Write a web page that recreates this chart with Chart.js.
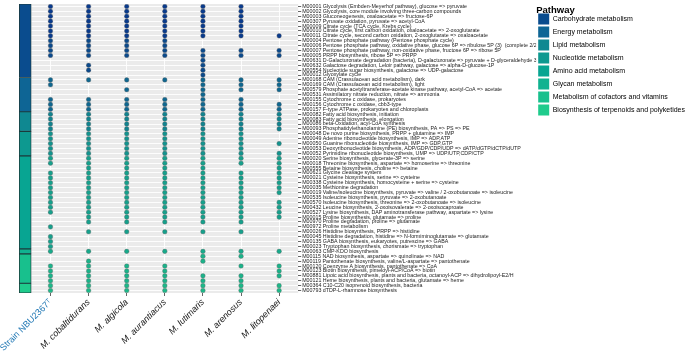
<!DOCTYPE html>
<html><head><meta charset="utf-8">
<script src="https://cdn.jsdelivr.net/npm/chart.js@4.4.1/dist/chart.umd.min.js"></script>
<style>html,body{margin:0;padding:0;background:#fff;}#wrap{position:relative;width:685px;height:351px;}canvas{display:block;}</style>
</head><body><div id="wrap"><canvas id="c" width="685" height="351"></canvas></div>
<script>
const species = ["Strain NBU2367\u1D40","M. cobaltidurans","M. algicola","M. aurantiacus","M. lutimaris","M. arenosus","M. litopenaei"];
const modules = [
"M00001 Glycolysis (Embden-Meyerhof pathway), glucose => pyruvate",
"M00002 Glycolysis, core module involving three-carbon compounds",
"M00003 Gluconeogenesis, oxaloacetate => fructose-6P",
"M00307 Pyruvate oxidation, pyruvate => acetyl-CoA",
"M00009 Citrate cycle (TCA cycle, Krebs cycle)",
"M00010 Citrate cycle, first carbon oxidation, oxaloacetate => 2-oxoglutarate",
"M00011 Citrate cycle, second carbon oxidation, 2-oxoglutarate => oxaloacetate",
"M00004 Pentose phosphate pathway (Pentose phosphate cycle)",
"M00006 Pentose phosphate pathway, oxidative phase, glucose 6P => ribulose 5P (3)  (complete 2/2)",
"M00007 Pentose phosphate pathway, non-oxidative phase, fructose 6P => ribose 5P",
"M00005 PRPP biosynthesis, ribose 5P => PRPP",
"M00631 D-Galacturonate degradation (bacteria), D-galacturonate => pyruvate + D-glyceraldehyde 3P",
"M00632 Galactose degradation, Leloir pathway, galactose => alpha-D-glucose-1P",
"M00554 Nucleotide sugar biosynthesis, galactose => UDP-galactose",
"M00012 Glyoxylate cycle",
"M00168 CAM (Crassulacean acid metabolism), dark",
"M00169 CAM (Crassulacean acid metabolism), light",
"M00579 Phosphate acetyltransferase-acetate kinase pathway, acetyl-CoA => acetate",
"M00531 Assimilatory nitrate reduction, nitrate => ammonia",
"M00155 Cytochrome c oxidase, prokaryotes",
"M00156 Cytochrome c oxidase, cbb3-type",
"M00157 F-type ATPase, prokaryotes and chloroplasts",
"M00082 Fatty acid biosynthesis, initiation",
"M00083 Fatty acid biosynthesis, elongation",
"M00086 beta-Oxidation, acyl-CoA synthesis",
"M00093 Phosphatidylethanolamine (PE) biosynthesis, PA => PS => PE",
"M00048 De novo purine biosynthesis, PRPP + glutamine => IMP",
"M00049 Adenine ribonucleotide biosynthesis, IMP => ADP,ATP",
"M00050 Guanine ribonucleotide biosynthesis, IMP => GDP,GTP",
"M00053 Deoxyribonucleotide biosynthesis, ADP/GDP/CDP/UDP => dATP/dGTP/dCTP/dUTP",
"M00052 Pyrimidine ribonucleotide biosynthesis, UMP => UDP/UTP,CDP/CTP",
"M00020 Serine biosynthesis, glycerate-3P => serine",
"M00018 Threonine biosynthesis, aspartate => homoserine => threonine",
"M00555 Betaine biosynthesis, choline => betaine",
"M00621 Glycine cleavage system",
"M00021 Cysteine biosynthesis, serine => cysteine",
"M00338 Cysteine biosynthesis, homocysteine + serine => cysteine",
"M00035 Methionine degradation",
"M00019 Valine/isoleucine biosynthesis, pyruvate => valine / 2-oxobutanoate => isoleucine",
"M00535 Isoleucine biosynthesis, pyruvate => 2-oxobutanoate",
"M00570 Isoleucine biosynthesis, threonine => 2-oxobutanoate => isoleucine",
"M00432 Leucine biosynthesis, 2-oxoisovalerate => 2-oxoisocaproate",
"M00527 Lysine biosynthesis, DAP aminotransferase pathway, aspartate => lysine",
"M00015 Proline biosynthesis, glutamate => proline",
"M00970 Proline degradation, proline => glutamate",
"M00972 Proline metabolism",
"M00026 Histidine biosynthesis, PRPP => histidine",
"M00045 Histidine degradation, histidine => N-formiminoglutamate => glutamate",
"M00135 GABA biosynthesis, eukaryotes, putrescine => GABA",
"M00023 Tryptophan biosynthesis, chorismate => tryptophan",
"M00063 CMP-KDO biosynthesis",
"M00115 NAD biosynthesis, aspartate => quinolinate => NAD",
"M00119 Pantothenate biosynthesis, valine/L-aspartate => pantothenate",
"M00120 Coenzyme A biosynthesis, pantothenate => CoA",
"M00123 Biotin biosynthesis, pimeloyl-ACP/CoA => biotin",
"M00881 Lipoic acid biosynthesis, plants and bacteria, octanoyl-ACP => dihydrolipoyl-E2/H",
"M00121 Heme biosynthesis, plants and bacteria, glutamate => heme",
"M00364 C10-C20 isoprenoid biosynthesis, bacteria",
"M00793 dTDP-L-rhamnose biosynthesis"
];
const pathways = ["Carbohydrate metabolism","Energy metabolism","Lipid metabolism","Nucleotide metabolism","Amino acid metabolism","Glycan metabolism","Metabolism of cofactors and vitamins","Biosynthesis of terpenoids and polyketides"];
const pathwayColors = ["#0a4c8e","#0e6595","#0f8891","#0d9990","#08a592","#10b290","#18c08d","#1fcb8c"];
const rowsPerPathway = [15,7,4,5,19,1,6,2];
const strainRows = [1,2,3,4,5,6,7,8,9,10,11,16,17,20,21,22,23,24,25,26,27,28,29,30,31,32,33,35,36,37,38,39,40,41,42,43,46,48,49,50,51,54,55,56,57,58,59];
const cobaltiduransRows = [1,2,3,4,5,6,7,8,9,10,11,13,14,16,20,21,22,23,24,25,26,27,28,29,30,31,32,33,34,35,36,37,38,39,40,41,42,43,44,45,47,51,53,54,55,56,57,58,59];
const algicolaRows = [1,2,3,4,5,6,7,8,9,10,11,16,18,20,21,22,23,24,25,26,27,28,29,30,31,32,33,34,35,36,37,38,39,40,41,42,43,44,45,47,51,54,55,56,57,58,59];
const aurantiacusRows = [1,2,3,4,5,6,7,8,9,10,11,16,20,21,22,23,24,25,26,27,28,29,30,31,32,33,34,35,36,37,38,39,40,41,42,43,44,45,47,51,54,55,56,57,58,59];
const lutimarisRows = [1,2,3,4,5,6,7,10,11,12,13,14,15,16,17,18,19,20,21,22,23,24,25,26,27,28,29,30,31,32,33,34,35,36,37,38,39,40,41,42,43,44,45,47,51,52,53,56,57,58,59];
const arenosusRows = [1,2,3,4,5,6,7,10,11,16,17,18,20,21,22,23,24,25,26,27,28,29,30,31,32,33,35,36,37,38,39,40,41,42,43,44,45,47,51,52,54,56,57,58,59];
const litopenaeiRows = [7,10,11,16,17,18,21,22,23,24,25,26,29,31,32,33,34,35,36,37,38,39,41,42,43,44,51,54,55,56,58,59];
const speciesRows = [strainRows,cobaltiduransRows,algicolaRows,aurantiacusRows,lutimarisRows,arenosusRows,litopenaeiRows];

// style helpers
const FONT = "'Liberation Sans', Arial, Helvetica, sans-serif";
const rowPathway = [];
rowsPerPathway.forEach((n,k)=>{for(let i=0;i<n;i++) rowPathway.push(k);});
const dotPalette = ["#0b4a8c","#0f6790","#11838f","#13938e","#16a08c","#18aa8b","#1bb38a","#1db889"];
function dotColor(row){
  const k = rowPathway[row-1];
  if (k===0 && row<=7) return "#093b8d";
  return dotPalette[k];
}
const XMIN = 0.174, SIDEX = 0.337;
const datasets = [];
let start = 1;
rowsPerPathway.forEach((n,k)=>{
  datasets.push({type:'bar', data:[{x:SIDEX, y:[start-0.5, start+n-0.5]}], backgroundColor:pathwayColors[k],
    borderColor:'#1c3a3c', borderWidth:0.9, borderSkipped:false, barThickness:12, grouped:false, order:2});
  start += n;
});
speciesRows.forEach((rows,j)=>{
  datasets.push({type:'scatter', data:rows.map(r=>({x:j+1,y:r})), pointRadius:2.3, pointHoverRadius:2.3,
    pointBackgroundColor:ctx=>dotColor(ctx.raw? ctx.raw.y : 1), pointBorderColor:'rgba(95,95,95,0.6)', pointBorderWidth:0.6, order:1});
});
const panelBg = {id:'panelBg', beforeDraw(chart){
  const {ctx, chartArea:a, scales:{x}} = chart; const l = x.getPixelForValue(0.5);
  ctx.save(); ctx.fillStyle='#ebebeb'; ctx.fillRect(l, a.top, a.right-l, a.bottom-a.top); ctx.restore();
}};
new Chart(document.getElementById('c'), {
  type:'scatter',
  data:{datasets},
  plugins:[panelBg],
  options:{
    responsive:false, animation:false, events:[],
    layout:{padding:{left:19, top:4, right:-10, bottom:0}},
    scales:{
      x:{type:'linear', min:XMIN, max:7.5, offset:false,
        afterBuildTicks:s=>{s.ticks = species.map((_,i)=>({value:i+1}));},
        afterFit:s=>{s.height = 58; s.paddingLeft = 0; s.paddingRight = 0;},
        ticks:{autoSkip:false, maxRotation:45, minRotation:45, padding:1,
          callback:(v,i)=>species[i],
          color:ctx=>ctx.index===0?'#1f77b4':'#1a1a1a',
          font:ctx=>({family:FONT, size:9, style: ctx.index===0?'normal':'italic'})},
        grid:{offset:false, color:'#ffffff', lineWidth:0.9, tickColor:'#555', tickLength:3},
        border:{display:false}},
      y:{type:'linear', position:'right', reverse:true, min:0.5, max:59.5, offset:false,
        afterBuildTicks:s=>{s.ticks = modules.map((_,i)=>({value:i+1}));},
        afterFit:s=>{s.width = 238; s.paddingTop = 0; s.paddingBottom = 0;},
        ticks:{autoSkip:false, padding:1, color:'#222', font:{family:FONT, size:5.3},
          callback:(v,i)=>modules[i]},
        grid:{offset:false, color:'#ffffff', lineWidth:0.9, tickColor:'#555', tickLength:3},
        border:{display:false}}
    },
    plugins:{
      tooltip:{enabled:false},
      legend:{position:'right', align:'start', onClick:()=>{},
        title:{display:true, text:'Pathway', position:'start', color:'#000', font:{family:FONT, size:9.5, weight:'bold'}, padding:{top:1.5, bottom:-5.5}},
        labels:{boxWidth:11, boxHeight:11, padding:2, color:'#222', font:{family:FONT, size:7},
          generateLabels:()=>pathways.map((p,i)=>({text:p, fillStyle:pathwayColors[i], strokeStyle:pathwayColors[i], lineWidth:0, hidden:false, index:i}))}}
    }
  }
});
</script></body></html>
